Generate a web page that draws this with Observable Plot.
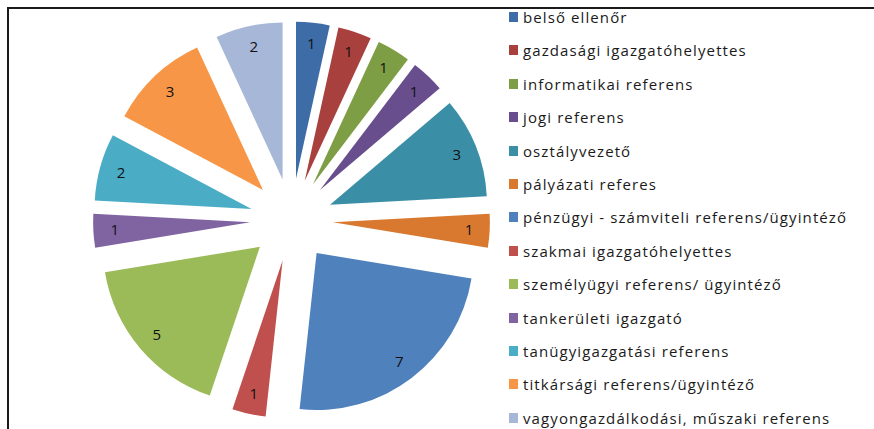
<!DOCTYPE html>
<html>
<head>
<meta charset="utf-8">
<script src="https://cdn.jsdelivr.net/npm/d3@7"></script>
<script src="https://cdn.jsdelivr.net/npm/@observablehq/plot@0.6"></script>
<style>
  html, body { margin: 0; padding: 0; background: #fff; }
  #wrap { position: relative; width: 874px; height: 429px; overflow: hidden; font-family: "Open Sans", sans-serif; }
  #frame { position: absolute; left: 7px; top: 7px; width: 870px; height: 430px; border-top: 2px solid #1a1a1a; border-left: 2px solid #1a1a1a; box-sizing: border-box; }
  #chart { position: absolute; left: 0; top: 0; }
  #legend { position: absolute; left: 509px; top: 0; }
  .row { position: absolute; left: 0; height: 20px; display: flex; align-items: center; white-space: pre; font-size: 15px; letter-spacing: 1.1px; color: #1a1a1a; }
  .sw { width: 9px; height: 10px; margin-right: 5px; flex: none; }
</style>
</head>
<body>
<div id="wrap">
  <div id="frame"></div>
  <div id="chart"></div>
  <div id="legend"></div>
</div>
<script>
const categories = [
  "belső ellenőr",
  "gazdasági igazgatóhelyettes",
  "informatikai referens",
  "jogi referens",
  "osztályvezető",
  "pályázati referes",
  "pénzügyi - számviteli referens/ügyintéző",
  "szakmai igazgatóhelyettes",
  "személyügyi referens/ ügyintéző",
  "tankerületi igazgató",
  "tanügyigazgatási referens",
  "titkársági referens/ügyintéző",
  "vagyongazdálkodási, műszaki referens"
];
const values = [1, 1, 1, 1, 3, 1, 7, 1, 5, 1, 2, 3, 2];
const colors = [
  "#3E6CA6", "#A8403E", "#7E9E45", "#684E8C", "#3A8FA6", "#D8792F",
  "#4F81BD", "#C0504D", "#9BBB59", "#8064A2", "#4BACC6", "#F79646", "#A6B7D7"
];

const explode = 0.264;   // slice offset, in pie radii
const labelR = 0.866;    // label distance from slice tip, in pie radii

const arcs = d3.pie().sort(null).value(d => d.value)(
  categories.map((name, i) => ({name, value: values[i], color: colors[i]}))
);
const slices = arcs.map(a => {
  const mid = (a.startAngle + a.endAngle) / 2;
  const cx = explode * Math.sin(mid), cy = explode * Math.cos(mid);
  return {
    ...a, mid, cx, cy,
    lx: cx + labelR * Math.sin(mid),
    ly: cy + labelR * Math.cos(mid),
    label: String(a.data.value)
  };
});

function pieMark(index, scales) {
  const g = d3.create("svg:g");
  const r = scales.x(1) - scales.x(0);
  const arcGen = d3.arc().innerRadius(0).outerRadius(r);
  for (const s of slices) {
    g.append("path")
      .attr("transform", `translate(${scales.x(s.cx)},${scales.y(s.cy)})`)
      .attr("d", arcGen({startAngle: s.startAngle, endAngle: s.endAngle}))
      .attr("fill", s.data.color);
  }
  return g.node();
}

const chart = Plot.plot({
  width: 874,
  height: 429,
  margin: 0,
  x: {domain: [-1, 1], range: [134.5, 448.5], axis: null},
  y: {domain: [-1, 1], range: [377, 63], axis: null},
  style: {fontFamily: "Open Sans, sans-serif", background: "transparent"},
  marks: [
    pieMark,
    Plot.text(slices, {x: "lx", y: "ly", text: "label", fontSize: 15, fill: "#111"})
  ]
});
document.getElementById("chart").appendChild(chart);

const legend = document.getElementById("legend");
categories.forEach((name, i) => {
  const row = document.createElement("div");
  row.className = "row";
  row.style.top = (7 + 33.4 * i) + "px";
  const sw = document.createElement("span");
  sw.className = "sw";
  sw.style.background = colors[i];
  const t = document.createElement("span");
  t.textContent = name;
  row.appendChild(sw);
  row.appendChild(t);
  legend.appendChild(row);
});
</script>
</body>
</html>
